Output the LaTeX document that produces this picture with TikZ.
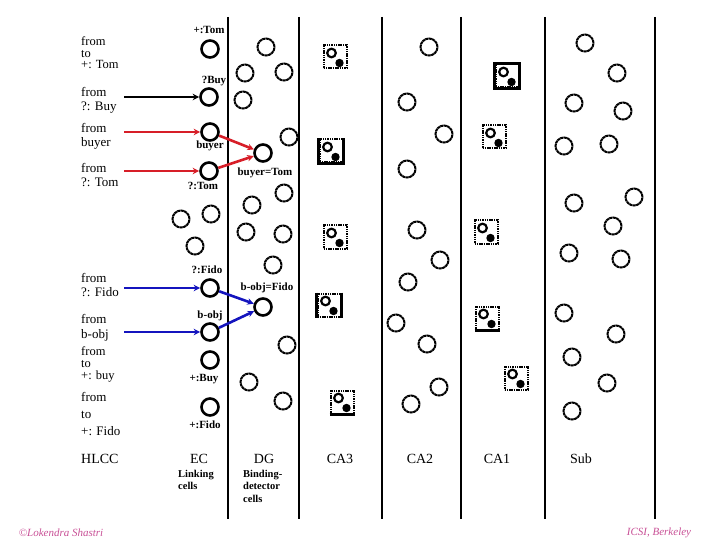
\documentclass[tikz,border=0pt]{standalone}
\usepackage{fontspec}
\setmainfont{Liberation Serif}
\usetikzlibrary{arrows.meta}
\definecolor{arrred}{RGB}{215,30,40}
\definecolor{arrblue}{RGB}{20,20,190}
\definecolor{credit}{RGB}{200,80,150}
\tikzset{
  vline/.style={line width=2.6pt},
  ecell/.style={draw,circle,minimum size=17pt,inner sep=0pt,line width=2.6pt},
  dcell/.style={draw,circle,minimum size=17pt,inner sep=0pt,line width=2pt,dash pattern=on 3pt off 0.5pt},
  sqbox/.style={draw,rectangle,minimum size=23pt,inner sep=0pt,line width=2pt,dash pattern=on 1.5pt off 0.8pt},
  solidedge/.style={line width=2.4pt},
  sqcell/.pic={
    \node[sqbox] (-box) at (0,0) {};
    \draw[line width=2.2pt] (-3.5,-4) circle (4.3pt);
    \fill (4.5,6) circle (4.2pt);
  },
  inlab/.style={font=\fontsize{13}{13}\selectfont,align=left,anchor=west,inner sep=0pt},
  nlab/.style={font=\fontsize{11}{11}\selectfont\bfseries,inner sep=0pt},
  collab/.style={font=\fontsize{14}{14}\selectfont,inner sep=0pt},
  sublab/.style={font=\fontsize{10.5}{12.5}\selectfont\bfseries,align=left,anchor=north west,inner sep=0pt},
  arr/.style={line width=2.6pt,-{Stealth[length=6.5pt,width=6.5pt]}},
  credlab/.style={font=\fontsize{11}{11}\selectfont\itshape,text=credit,inner sep=0pt}
}
\begin{document}
\begin{tikzpicture}[x=1pt,y=-1pt]
\useasboundingbox (0,0) rectangle (720,540);
% column dividers
\foreach \x in {228,299,382,461,545,655} \draw[vline] (\x,17) -- (\x,519);
% input labels
\node[inlab,font=\fontsize{12.5}{11.5}\selectfont] (l1) at (81,53) {from\\to\\+: Tom};
\node[inlab,font=\fontsize{13}{14}\selectfont] (l2) at (81,100) {from\\?: Buy};
\node[inlab,font=\fontsize{13}{14}\selectfont] (l3) at (81,136) {from\\buyer};
\node[inlab,font=\fontsize{13}{14}\selectfont] (l4) at (81,175) {from\\?: Tom};
\node[inlab,font=\fontsize{13}{14}\selectfont] (l5) at (81,285) {from\\?: Fido};
\node[inlab,font=\fontsize{13}{15}\selectfont] (l6) at (81,327.5) {from\\b-obj};
\node[inlab,font=\fontsize{12.5}{12}\selectfont] (l7) at (81,364) {from\\to\\+: buy};
\node[inlab,font=\fontsize{13}{17}\selectfont] (l8) at (81,414) {from\\to\\+: Fido};
\node[collab,anchor=west] (hlcc) at (81,459) {HLCC};
% EC linking cells
\node[ecell] (ecTom) at (210,49) {};
\node[ecell] (ecBuy) at (209,97) {};
\node[ecell] (ecBuyer) at (210,132) {};
\node[ecell] (ecQTom) at (209,171) {};
\node[ecell] (ecFido) at (210,288) {};
\node[ecell] (ecBobj) at (210,332) {};
\node[ecell] (ecPBuy) at (210,360) {};
\node[ecell] (ecPFido) at (210,407) {};
\node[nlab] (tTom) at (209,30) {+:Tom};
\node[nlab] (tBuy) at (214,81) {?Buy};
\node[nlab] (tBuyer) at (210,146) {buyer};
\node[nlab] (tQTom) at (203,186) {?:Tom};
\node[nlab] (tFido) at (207,270) {?:Fido};
\node[nlab] (tBobj) at (210,316) {b-obj};
\node[nlab] (tPBuy) at (204,379) {+:Buy};
\node[nlab] (tPFido) at (205,425) {+:Fido};
% DG binding detector cells
\node[ecell] (dgBT) at (263,153) {};
\node[ecell] (dgBF) at (263,307) {};
\node[nlab] (tBT) at (265,173) {buyer=Tom};
\node[nlab] (tBF) at (267,288) {b-obj=Fido};
% scattered cells
\foreach \x/\y [count=\i] in {181/219,211/214,195/246}
  \node[dcell] (ex\i) at (\x,\y) {};
\foreach \x/\y [count=\i] in {266/47,245/73,284/72,243/100,289/137,284/193,252/205,246/232,283/234,273/265,287/345,249/382,283/401}
  \node[dcell] (dg\i) at (\x,\y) {};
\foreach \x/\y [count=\i] in {429/47,407/102,444/134,407/169,417/230,440/260,408/282,396/323,427/344,439/387,411/404}
  \node[dcell] (cb\i) at (\x,\y) {};
\foreach \x/\y [count=\i] in {585/43,617/73,574/103,623/111,564/146,609/144,574/203,634/197,613/226,569/253,621/259,564/313,616/334,572/357,607/383,572/411}
  \node[dcell] (sb\i) at (\x,\y) {};
% CA3 squares
\pic (ca3a) at (335,57) {sqcell};
\pic (ca3b) at (331,151) {sqcell};
\pic (ca3c) at (335,237) {sqcell};
\pic (ca3d) at (329,305) {sqcell};
\pic (ca3e) at (342,402) {sqcell};
\draw[solidedge] (ca3b-box.north west) -- (ca3b-box.south west) -- (ca3b-box.south east) -- (ca3b-box.north east);
\draw[solidedge] (ca3d-box.north west) -- (ca3d-box.south west);
\draw[solidedge] (ca3d-box.north east) -- (ca3d-box.south east);
\draw[solidedge] (ca3e-box.south west) -- (ca3e-box.south east);
% CA1 squares
\pic (ca1a) at (507,76) {sqcell};
\pic (ca1b) at (494,137) {sqcell};
\pic (ca1c) at (486,232) {sqcell};
\pic (ca1d) at (487,318) {sqcell};
\pic (ca1e) at (516,378) {sqcell};
\draw[solidedge] (ca1a-box.north west) rectangle (ca1a-box.south east);
\draw[solidedge] (ca1d-box.south west) -- (ca1d-box.south east);
% input arrows
\coordinate (sBuy) at (124,97);
\coordinate (sBuyer) at (124,132);
\coordinate (sQTom) at (124,171);
\coordinate (sFido) at (124,288);
\coordinate (sBobj) at (124,332);
\draw[arr] (sBuy) -- (ecBuy.west);
\draw[arr,arrred] (sBuyer) -- (ecBuyer.west);
\draw[arr,arrred] (sQTom) -- (ecQTom.west);
\draw[arr,arrblue] (sFido) -- (ecFido.west);
\draw[arr,arrblue] (sBobj) -- (ecBobj.west);
\draw[arr,arrred] (ecBuyer) -- (dgBT);
\draw[arr,arrred] (ecQTom) -- (dgBT);
\draw[arr,arrblue] (ecFido) -- (dgBF);
\draw[arr,arrblue] (ecBobj) -- (dgBF);
% column labels
\node[collab] (cEC) at (199,459) {EC};
\node[collab] (cDG) at (264,459) {DG};
\node[collab] (cCA3) at (340,459) {CA3};
\node[collab] (cCA2) at (420,459) {CA2};
\node[collab] (cCA1) at (497,459) {CA1};
\node[collab] (cSub) at (581,459) {Sub};
\node[sublab] (sEC) at (178,470) {Linking\\cells};
\node[sublab] (sDG) at (243,470) {Binding-\\detector\\cells};
% credits
\node[credlab] (cr1) at (61,533) {©Lokendra Shastri};
\node[credlab] (cr2) at (659,533) {ICSI, Berkeley};
\end{tikzpicture}
\end{document}
